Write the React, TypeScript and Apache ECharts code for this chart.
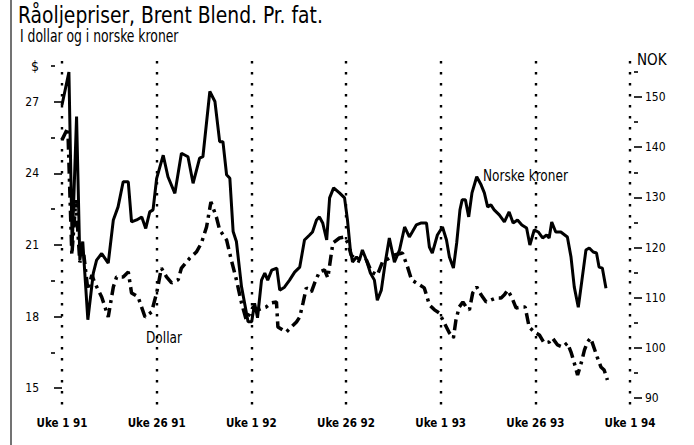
import React, { useEffect, useRef } from "react";
import * as echarts from "echarts";

// Week index since "Uke 1 91" (0 .. 156)
const xTickLabels = ["Uke 1 91", "Uke 26 91", "Uke 1 92", "Uke 26 92", "Uke 1 93", "Uke 26 93", "Uke 1 94"];

const dollarTicks = [15, 18, 21, 24, 27];
const dollarMinorTicks = [16.5, 19.5, 22.5, 25.5, 28.5];
const nokTicks = [90, 100, 110, 120, 130, 140, 150];
const nokMinorTicks = [95, 105, 115, 125, 135, 145, 155];

// Norske kroner (NOK per fat)
const nokWeeks = [
  0.0, 1.9, 2.8, 4.0, 4.9, 5.7, 7.1, 8.6, 9.5, 10.9, 12.7, 14.1, 15.4, 16.8, 18.2, 19.1, 20.5, 21.9, 23.0, 24.1,
  25.0, 26.0, 27.8, 29.1, 31.0, 32.8, 34.6, 36.0, 37.8, 38.7, 40.6, 42.0, 43.3, 44.2, 45.2, 46.1, 47.0, 47.9, 49.3, 51.1,
  52.1, 52.9, 53.7, 54.8, 55.7, 56.5, 57.6, 59.0, 59.8, 61.1, 62.5, 63.9, 65.3, 66.6, 68.0, 68.8, 69.9, 70.7, 71.6, 72.7,
  73.5, 74.6, 76.2, 77.6, 78.4, 79.2, 79.8, 80.9, 81.7, 82.5, 83.6, 84.7, 85.8, 86.6, 87.7, 88.8, 89.9, 91.3, 92.7, 94.1,
  95.4, 96.2, 97.3, 98.7, 100.1, 100.9, 101.7, 103.1, 104.5, 105.6, 106.4, 107.5, 108.4, 109.3, 109.9, 110.8, 111.7, 112.6, 113.9, 115.1,
  116.0, 116.9, 117.8, 118.7, 120.1, 121.5, 122.8, 123.9, 125.1, 126.3, 127.6, 128.5, 129.7, 130.8, 132.0, 133.1, 133.8, 134.5, 135.6, 137.0,
  138.8, 139.8, 140.7, 141.8, 142.8, 143.9, 144.8, 145.9, 146.8, 147.5, 148.4, 149.4,
];
const nokValues = [
  148.4, 155.0, 120.2, 146.1, 117.5, 121.2, 105.6, 114.9, 117.5, 118.8, 116.9, 125.5, 128.1, 133.1, 133.1, 125.1, 125.5, 126.1, 123.8, 127.1,
  127.5, 133.8, 138.4, 134.1, 130.8, 138.8, 138.1, 132.8, 137.8, 138.1, 151.1, 149.1, 141.1, 141.1, 134.5, 133.8, 123.2, 121.2, 112.2, 105.2,
  105.2, 108.9, 106.0, 113.5, 114.9, 113.5, 115.5, 115.9, 111.5, 112.1, 113.5, 115.1, 116.1, 121.5, 122.5, 123.1, 125.5, 126.1, 124.9, 121.5,
  129.9, 131.9, 130.9, 129.9, 125.5, 119.5, 117.1, 118.1, 117.5, 119.5, 117.5, 114.9, 113.5, 109.5, 111.5, 117.1, 121.9, 117.1, 119.5, 124.1,
  122.1, 123.1, 124.5, 124.9, 124.9, 120.1, 118.9, 122.5, 124.1, 121.5, 118.1, 115.9, 120.9, 127.5, 129.5, 129.5, 126.1, 130.9, 134.1, 132.5,
  130.9, 128.1, 128.5, 127.5, 126.5, 125.1, 127.1, 124.9, 125.5, 124.5, 123.9, 120.5, 123.5, 123.1, 121.9, 122.5, 121.9, 125.1, 123.1, 123.1,
  122.1, 118.1, 112.1, 108.1, 113.5, 119.5, 119.9, 119.1, 118.9, 116.1, 115.9, 111.9,
];

// Dollar (USD per fat)
const usdWeeks = [
  0.0, 1.6, 2.7, 3.8, 4.9, 6.0, 7.1, 8.2, 9.0, 10.9, 12.7, 14.1, 15.0, 16.8, 18.2, 19.1, 20.9, 22.8, 24.6, 26.0,
  27.3, 28.7, 30.1, 31.9, 32.8, 35.1, 36.9, 38.3, 39.7, 40.9, 42.4, 43.3, 45.2, 46.5, 47.9, 49.3, 50.6, 52.5, 53.8, 56.1,
  57.5, 58.9, 59.3, 60.7, 61.6, 63.0, 64.4, 65.3, 66.2, 67.1, 68.5, 69.4, 70.7, 72.1, 73.0, 74.4, 76.2, 77.6, 78.5, 79.4,
  80.8, 82.3, 83.6, 85.0, 86.6, 88.0, 89.9, 91.3, 93.5, 94.9, 96.0, 97.3, 99.5, 100.9, 102.3, 103.6, 105.0, 106.4, 107.5, 108.2,
  109.1, 110.1, 111.0, 111.9, 112.8, 113.9, 115.1, 116.5, 117.8, 119.2, 120.6, 121.5, 122.4, 123.6, 124.7, 126.1, 127.2, 128.3, 129.7, 131.1,
  132.4, 133.8, 134.7, 136.1, 137.5, 138.8, 139.8, 140.7, 141.6, 142.6, 143.5, 144.3, 145.2, 147.0, 148.0, 148.9, 149.8,
];
const usdValues = [
  25.4, 25.9, 20.58, 22.88, 20.28, 20.58, 19.11, 19.74, 19.41, 18.82, 17.98, 19.24, 19.66, 19.66, 19.87, 18.99, 18.82, 17.98, 18.19, 18.99,
  20.03, 19.66, 19.41, 19.54, 20.03, 20.45, 20.7, 21.08, 21.75, 22.8, 22.17, 21.63, 21.21, 20.37, 19.54, 18.57, 17.86, 18.4, 18.28, 18.4,
  18.57, 18.61, 17.56, 17.43, 17.35, 17.56, 17.77, 17.98, 18.57, 19.2, 19.03, 19.41, 19.87, 19.95, 19.62, 21.08, 21.29, 21.33, 21.08, 20.58,
  20.37, 20.28, 20.37, 19.87, 19.74, 20.28, 20.45, 20.58, 20.66, 20.08, 19.54, 19.41, 19.2, 18.49, 18.28, 18.15, 17.73, 17.31, 17.1, 17.86,
  18.4, 18.61, 18.4, 18.28, 18.99, 19.24, 18.91, 18.61, 18.69, 18.78, 18.78, 18.91, 19.11, 18.78, 18.36, 18.4, 18.4, 17.56, 17.35, 17.23,
  16.89, 16.93, 17.1, 16.81, 16.72, 16.89, 16.51, 16.05, 15.55, 16.05, 16.6, 16.93, 17.1, 16.3, 15.89, 15.76, 15.34,
];

const NARROW = '"Liberation Sans Narrow", "Arial Narrow", "DejaVu Sans Condensed", sans-serif';

function scaledText(text: string, x: number, y: number, fontSize: number, scaleX: number) {
  return {
    type: "text",
    x,
    y,
    scaleX,
    style: { text, x: 0, y: 0, verticalAlign: "top", align: "left", fontFamily: NARROW, fontSize, fill: "#000" },
  };
}

export default function App() {
  const ref = useRef<HTMLDivElement>(null);

  useEffect(() => {
    if (!ref.current) return;
    const chart = echarts.init(ref.current, null, { renderer: "svg" });

    const tickStyle = { color: "#000", width: 1.6 };
    const labelStyle = { color: "#000", fontFamily: NARROW, fontSize: 12 };

    const option: any = {
      animation: false,
      backgroundColor: "#fff",
      grid: { left: 62, right: 64, top: 61, bottom: 37, containLabel: false },
      xAxis: {
        type: "value",
        min: 0,
        max: 156,
        interval: 26,
        axisLine: { show: false },
        axisTick: { show: false },
        axisLabel: {
          margin: 9,
          color: "#000",
          fontFamily: NARROW,
          fontSize: 11.5,
          fontWeight: "bold",
          formatter: (v: number) => xTickLabels[Math.round(v / 26)] ?? "",
        },
        splitLine: { show: true, lineStyle: { color: "#000", width: 2.4, type: [2.4, 8.6] } },
      },
      yAxis: [
        {
          type: "value",
          position: "left",
          min: 14.168,
          max: 28.705,
          offset: 7,
          axisLine: { show: false },
          axisTick: { show: true, length: 8, lineStyle: tickStyle, customValues: dollarTicks },
          axisLabel: { ...labelStyle, margin: 16, customValues: dollarTicks },
          splitLine: { show: false },
        },
        {
          type: "value",
          position: "left",
          min: 14.168,
          max: 28.705,
          offset: 7,
          axisLine: { show: false },
          axisTick: { show: true, length: 4, lineStyle: tickStyle, customValues: dollarMinorTicks },
          axisLabel: { ...labelStyle, fontSize: 14, margin: 16, customValues: [28.5], formatter: () => "$" },
          splitLine: { show: false },
        },
        {
          type: "value",
          position: "right",
          min: 88.01,
          max: 157.18,
          offset: 4,
          axisLine: { show: false },
          axisTick: { show: true, length: 8, lineStyle: tickStyle, customValues: nokTicks },
          axisLabel: { ...labelStyle, margin: 11, customValues: nokTicks },
          splitLine: { show: false },
        },
        {
          type: "value",
          position: "right",
          min: 88.01,
          max: 157.18,
          offset: 4,
          axisLine: { show: false },
          axisTick: { show: true, length: 4, lineStyle: tickStyle, customValues: nokMinorTicks },
          axisLabel: { show: false },
          splitLine: { show: false },
        },
      ],
      series: [
        {
          name: "Norske kroner",
          type: "line",
          yAxisIndex: 2,
          showSymbol: false,
          symbol: "none",
          lineStyle: { color: "#000", width: 3 },
          data: nokWeeks.map((w, i) => [w, nokValues[i]]),
          z: 3,
        },
        {
          name: "Dollar",
          type: "line",
          yAxisIndex: 0,
          showSymbol: false,
          symbol: "none",
          lineStyle: { color: "#000", width: 3.5, type: [11, 5, 3, 5] },
          data: usdWeeks.map((w, i) => [w, usdValues[i]]),
          z: 4,
        },
      ],
      graphic: [
        {
          type: "line",
          shape: { x1: 11, y1: 0, x2: 11, y2: 445 },
          style: { stroke: "#444", lineWidth: 1.5 },
        },
        scaledText("Råoljepriser, Brent Blend. Pr. fat.", 18, 4, 23, 0.905),
        scaledText("I dollar og i norske kroner", 20, 28, 17, 0.81),
        scaledText("NOK", 637, 52, 15, 1),
        scaledText("Norske kroner", 483, 168, 15, 0.9),
        scaledText("Dollar", 146, 330, 15, 0.9),
      ],
    };

    chart.setOption(option);
    return () => chart.dispose();
  }, []);

  return (
    <div
      ref={ref}
      style={{ position: "fixed", left: 0, top: 0, width: 694, height: 445, background: "#fff" }}
    />
  );
}
